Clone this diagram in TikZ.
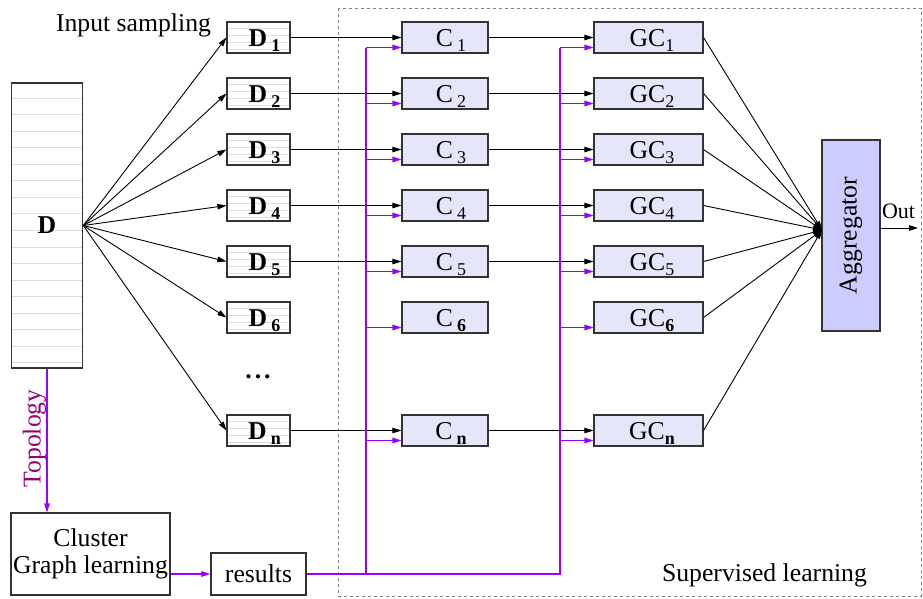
\documentclass[tikz,border=0pt]{standalone}
\usepackage{fontspec}
\setmainfont{Liberation Serif}
\usetikzlibrary{arrows.meta}
\definecolor{boxline}{HTML}{333333}
\definecolor{cfill}{HTML}{E6E6FA}
\definecolor{aggfill}{HTML}{CCCCFF}
\definecolor{busviolet}{HTML}{9900FF}
\definecolor{topo}{HTML}{990077}
\definecolor{stripegray}{HTML}{DDDDDD}
\newcommand\lowidx[1]{\raisebox{-5pt}{\fontsize{18}{18}\selectfont #1}}
\begin{document}
\begin{tikzpicture}[x=1pt,y=-1pt,
  font=\fontsize{25.7}{27}\selectfont,
  basebox/.style={draw=boxline, line width=1.1pt, inner sep=0pt},
  labbox/.style={basebox, text height=20pt, text depth=2pt},
  stripe/.style={draw=stripegray, line width=0.9pt},
  dbox/.style={labbox, fill=white, minimum width=63, minimum height=31,
    execute at begin node={\hspace*{12pt}},
    path picture={\foreach \k in {6,13,20,27}
      \draw[stripe] ([yshift=-\k pt]path picture bounding box.north west)
        -- ([yshift=-\k pt]path picture bounding box.north east);}},
  cbox/.style={labbox, fill=cfill, minimum width=86, minimum height=31,
    execute at begin node={\hspace*{12pt}}},
  gbox/.style={labbox, fill=cfill, minimum width=109, minimum height=31,
    execute at begin node={\hspace*{7pt}}},
  arr/.style={draw=black, line width=0.9pt, -{Triangle[length=9pt,width=5.5pt]}},
  pline/.style={draw=busviolet, line width=1.6pt},
  parr/.style={draw=busviolet, line width=1.3pt, -{Triangle[length=9pt,width=5.5pt]}},
]
\useasboundingbox (0,0) rectangle (923,598);

% supervised learning frame
\draw[draw=gray, line width=1pt, dash pattern=on 3pt off 3pt] (338,8) rectangle (921,596);

% the whole data set
\node[basebox, fill=white, minimum width=71.5, minimum height=285,
  path picture={\foreach \k in {0,...,16}
    \draw[stripe] ([yshift={-(15pt+\k*16.55pt)}]path picture bounding box.north west)
      -- ([yshift={-(15pt+\k*16.55pt)}]path picture bounding box.north east);}]
  (D) at (47,225.5) {\textbf{D}};

% sampled subsets, classifiers and graph classifiers
\foreach \i/\y/\s in {1/37.5/1, 2/93.5/2, 3/149.5/3, 4/205.5/4, 5/261.5/5,
                      6/317.5/\textbf{6}, n/430.5/\textbf{n}} {
  \node[dbox] (d\i) at (258.5,\y) {\textbf{D}\,\lowidx{\textbf{\i}}};
  \node[cbox] (c\i) at (445,\y) {C\,\lowidx{\s}};
  \node[gbox] (g\i) at (648.5,\y) {GC\lowidx{\s}};
  \coordinate (pc\i) at ([yshift=-10pt]c\i.west);
  \coordinate (pg\i) at ([yshift=-10pt]g\i.west);
}

\node[anchor=base] (dots) at (258,378) {\textbf{.\hspace{3pt}.\hspace{3pt}.}};

% aggregator
\node[basebox, fill=aggfill, minimum width=58, minimum height=191]
  (agg) at (851,235.5) {\rotatebox{90}{Aggregator}};
\coordinate (merge) at (822,230);
\coordinate (out) at (918,228);

% clustering branch
\node[basebox, fill=white, minimum width=159, minimum height=82, align=center]
  (cl) at (90.5,554) {Cluster\\Graph learning};
\node[basebox, fill=white, minimum width=95, minimum height=42]
  (res) at (258.5,574) {results};
\coordinate (busL) at (366,574);
\coordinate (busR) at (560,574);

% texts
\node[anchor=base] (title) at (133.5,31.7) {Input sampling};
\node[anchor=base] (suplabel) at (764.5,581) {Supervised learning};
\node[anchor=base, font=\fontsize{22}{24}\selectfont] (outlabel) at (898.5,218) {Out};
\node[rotate=90, anchor=base, text=topo] (topolabel) at (40.5,438.5) {Topology};

% input sampling fan
\foreach \i in {1,2,3,4,5,6,n}
  \draw[arr] (D.east) -- (d\i.west);

% data flow
\foreach \i in {1,2,3,4,5,n} {
  \draw[arr] (d\i.east) -- (c\i.west);
  \draw[arr] (c\i.east) -- (g\i.west);
}
\foreach \i in {1,2,3,4,5,6,n}
  \draw[arr] (g\i.east) -- (merge);
\draw[arr] (agg.east |- out) -- (out);

% topology / cluster results
\draw[parr] (D.south) -- (D.south |- cl.north);
\draw[parr] (res.west -| cl.east) -- (res.west);
\draw[pline] (busL) -- (pc1 -| busL);
\draw[pline] (res.east) -- (busR) -- (pg1 -| busR);
\foreach \i in {1,2,3,4,5,6,n} {
  \draw[parr] (pc\i -| busL) -- (pc\i);
  \draw[parr] (pg\i -| busR) -- (pg\i);
}
\end{tikzpicture}
\end{document}
